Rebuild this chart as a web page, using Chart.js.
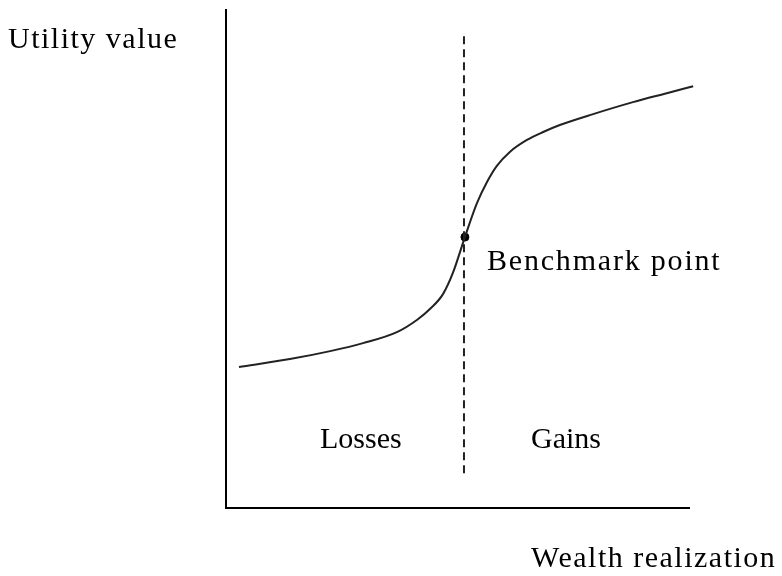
<!DOCTYPE html>
<html>
<head>
<meta charset="utf-8">
<script src="https://cdn.jsdelivr.net/npm/chart.js@4.4.1/dist/chart.umd.min.js"></script>
<style>
  html, body { margin: 0; padding: 0; background: #fff; }
  #wrap { width: 782px; height: 576px; }
</style>
</head>
<body>
<div id="wrap"><canvas id="chart"></canvas></div>
<script>
/* DATA */
const wealthX = [2.8, 13.8, 22.5, 29.6, 36.9, 41.3, 44.1, 46.9, 49.0, 51.6, 54.2, 56.4, 58.5, 61.3, 65.0, 68.5, 72.1, 79.3, 87.9, 95.2, 100.9];
const utilityY = [28.3, 29.9, 31.5, 33.1, 35.3, 37.8, 40.0, 43.0, 47.2, 54.4, 61.2, 65.5, 68.7, 71.5, 73.9, 75.5, 76.9, 79.1, 81.5, 83.3, 84.7];
const benchmark = { x: 51.6, y: 54.4 };
const dividerX = 51.4;
const dividerY = [7.0, 95.2];

const labels = [
  { text: "Utility value", x: 8, y: 48, spacing: 1.5 },
  { text: "Benchmark point", x: 487, y: 270, spacing: 1.8 },
  { text: "Losses", x: 320, y: 448, spacing: 0 },
  { text: "Gains", x: 531, y: 448, spacing: 0 },
  { text: "Wealth realization", x: 531, y: 567, spacing: 1.5 }
];

/* text plugin */
const textPlugin = {
  id: "texts",
  afterDraw(c) {
    const ctx = c.ctx;
    ctx.save();
    ctx.fillStyle = "#000";
    ctx.font = "30px 'Liberation Serif', 'Times New Roman', serif";
    ctx.textBaseline = "alphabetic";
    labels.forEach(l => {
      ctx.letterSpacing = l.spacing + "px";
      ctx.fillText(l.text, l.x, l.y);
    });
    ctx.restore();
  }
};

const curve = wealthX.map((x, i) => ({ x, y: utilityY[i] }));

new Chart(document.getElementById("chart"), {
  type: "scatter",
  data: {
    datasets: [
      {
        data: curve,
        showLine: true,
        borderColor: "#222",
        borderWidth: 2,
        pointRadius: 0,
        cubicInterpolationMode: "monotone",
        clip: false
      },
      {
        data: [{ x: dividerX, y: dividerY[0] }, { x: dividerX, y: dividerY[1] }],
        showLine: true,
        borderColor: "#222",
        borderWidth: 2,
        borderDash: [8, 5],
        pointRadius: 0
      },
      {
        data: [benchmark],
        pointRadius: 4,
        backgroundColor: "#000",
        borderColor: "#000"
      }
    ]
  },
  options: {
    responsive: true,
    maintainAspectRatio: false,
    animation: false,
    layout: { padding: { left: 218, right: 93, top: 10, bottom: 60 } },
    plugins: { legend: { display: false }, tooltip: { enabled: false } },
    scales: {
      x: {
        type: "linear", min: 0, max: 100,
        grid: { display: false },
        ticks: { display: false },
        border: { display: true, color: "#000", width: 2 }
      },
      y: {
        type: "linear", min: 0, max: 100,
        grid: { display: false },
        ticks: { display: false },
        border: { display: true, color: "#000", width: 2 }
      }
    }
  },
  plugins: [textPlugin]
});
</script>
</body>
</html>
